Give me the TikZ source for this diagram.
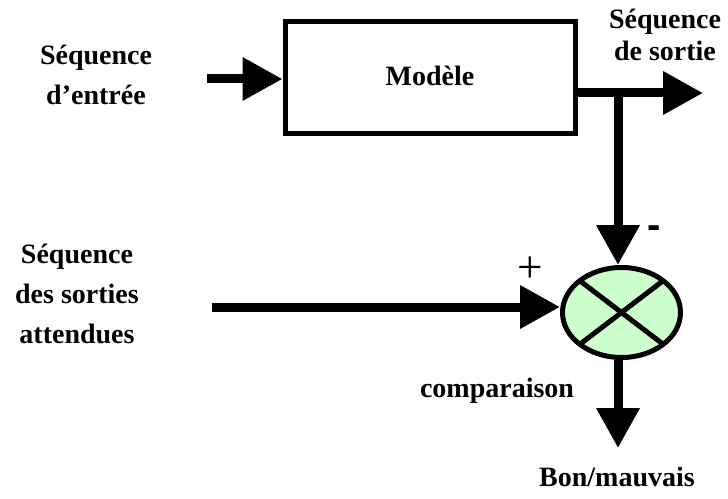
\documentclass[tikz,border=0pt]{standalone}
\usepackage{fontspec}
\setmainfont{Liberation Serif}
\newfontfamily\signfont{Liberation Sans}
\usetikzlibrary{arrows.meta,calc,shapes.geometric}
\definecolor{cmpfill}{RGB}{204,255,204}
\begin{document}
\begin{tikzpicture}[x=0.75pt,y=-0.75pt,
  lbl/.style={font=\fontsize{21pt}{30pt}\selectfont\bfseries,align=center,inner sep=0pt},
  flow/.style={line width=6.75pt,-{Triangle[length=30pt,width=31pt]}},
  bus/.style={line width=6.75pt},
  blockbox/.style={draw,line width=3.75pt,minimum width=217.5pt,minimum height=84pt,inner sep=0pt},
  cmp/.style={ellipse,draw,line width=3.75pt,fill=cmpfill,minimum width=88.5pt,minimum height=67.5pt,inner sep=0pt}
]
\useasboundingbox (0,0) rectangle (728,499);

% model block
\node[blockbox] (model) at (430,78) {};
\node[lbl,anchor=base] (modeltxt) at (430,86) {Modèle};

% comparator
\node[cmp] (cmp) at (621.5,312.5) {};
\draw[line width=3.75pt] ($(cmp.center)+(-41.7,-31.8)$) -- ($(cmp.center)+(41.7,31.8)$);
\draw[line width=3.75pt] ($(cmp.center)+(41.7,-31.8)$) -- ($(cmp.center)+(-41.7,31.8)$);

% labels (base anchor = baseline of the last line)
\node[lbl,anchor=base] (inlbl) at (96,105) {Séquence\\d’entrée};
\node[lbl,anchor=base,font=\fontsize{21pt}{24pt}\selectfont\bfseries] (outlbl) at (665,61) {Séquence\\de sortie};
\node[lbl,anchor=base] (explbl) at (77,343) {Séquence\\des sorties\\attendues};
\node[lbl,anchor=base] (cmplbl) at (497,397) {comparaison};
\node[lbl,anchor=base] (reslbl) at (617,486) {Bon/mauvais};
\node[font=\fontsize{34pt}{34pt}\selectfont,inner sep=0pt] (plus) at (530,270) {+};
\node[font=\signfont\fontsize{30pt}{30pt}\selectfont\bfseries,inner sep=0pt] (minus) at (654,232) {-};

% connectors
\coordinate (inStart) at (207,79);
\coordinate (outEnd) at (703,93);
\coordinate (split) at (618,93);
\coordinate (expStart) at (212,307);
\coordinate (resEnd) at (618,448);

\draw[flow] (inStart) -- (inStart -| model.west);
\draw[flow] (split -| model.east) -- (outEnd);
\draw[bus] (split) -- ++(0,-3.375pt);
\draw[flow] (split) -- (split |- cmp.north);
\draw[flow] (expStart) -- (expStart -| cmp.west);
\draw[flow] (resEnd |- cmp.south) -- (resEnd);
\end{tikzpicture}
\end{document}
